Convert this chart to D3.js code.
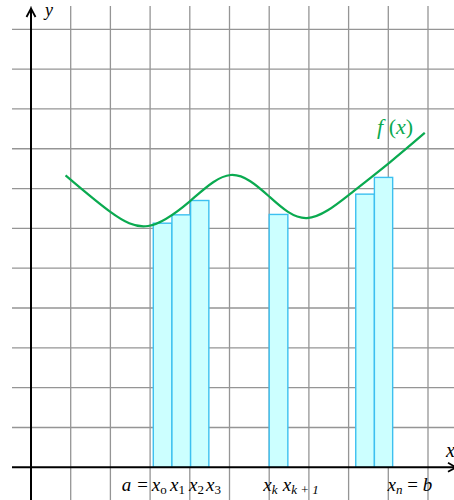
<!DOCTYPE html>
<html><head><meta charset="utf-8">
<script src="https://cdn.jsdelivr.net/npm/d3@7"></script>
<style>html,body{margin:0;padding:0;background:#fff;}svg{display:block;}</style>
</head><body>
<script>
// grid in units
const gridXs = [0,1,2,3,4,5,6,7,8,9,10];
const gridYs = [1,2,3,4,5,6,7,8,9,10,11];
// f(x) sample points (units)
const curveX = [0.87,1.99,2.95,4.0,5.03,6.0,6.95,8.03,9.04,9.92];
const curveY = [7.33,6.42,6.06,6.68,7.34,6.80,6.26,6.86,7.66,8.40];
// rectangles: left edge, width, height (units)
const barLeft = [3.08,3.55,4.02,6.0,8.18,8.65];
const barWidth = [0.47,0.47,0.46,0.47,0.47,0.46];
const barHeight = [6.13,6.34,6.70,6.35,6.86,7.28];
// bottom labels
const labelX = [2.285,3.04,3.50,3.98,4.41,5.85,6.34,8.98];
const labelMain = ["a = ","x","x","x","x","x","x","x"];
const labelSub = ["","o","1","2","3","k","k + 1","n"];
const labelSubItalic = [false,false,false,false,false,true,true,true];

const W=454,H=500;
const x = d3.scaleLinear().domain([0,11]).range([31,31+11*39.7]);
const y = d3.scaleLinear().domain([0,11]).range([467.3,467.3-11*39.82]);

const svg = d3.select("body").append("svg").attr("width",W).attr("height",H);
const serif = "'Liberation Serif','DejaVu Serif',serif";

// grid
svg.append("g").selectAll("line").data(gridYs).join("line")
  .attr("x1",12).attr("x2",W).attr("y1",d=>y(d)).attr("y2",d=>y(d))
  .attr("stroke","#959595").attr("stroke-width",1.3);
svg.append("g").selectAll("line").data(gridXs).join("line")
  .attr("x1",d=>x(d)).attr("x2",d=>x(d)).attr("y1",6).attr("y2",H)
  .attr("stroke","#959595").attr("stroke-width",1.3);

// bars
svg.append("g").selectAll("rect").data(barLeft).join("rect")
  .attr("x",(d)=>x(d))
  .attr("width",(d,i)=>x(d+barWidth[i])-x(d))
  .attr("y",(d,i)=>y(barHeight[i]))
  .attr("height",(d,i)=>y(0)-y(barHeight[i]))
  .attr("fill","#ccffff").attr("stroke","#3cc0f0").attr("stroke-width",1.4);

// curve
const pts = curveX.map((d,i)=>[d,curveY[i]]);
svg.append("path").attr("d",d3.line().x(d=>x(d[0])).y(d=>y(d[1])).curve(d3.curveNatural)(pts))
  .attr("fill","none").attr("stroke","#0aaa50").attr("stroke-width",2.2);

// axes
svg.append("line").attr("x1",12).attr("x2",455).attr("y1",y(0)).attr("y2",y(0))
  .attr("stroke","#000").attr("stroke-width",2);
svg.append("line").attr("x1",x(0)).attr("x2",x(0)).attr("y1",H).attr("y2",9)
  .attr("stroke","#000").attr("stroke-width",2);
// arrowheads
svg.append("path").attr("d",`M${x(0)-4.5},${17} L${x(0)},${8.5} L${x(0)+4.5},${17}`)
  .attr("fill","none").attr("stroke","#000").attr("stroke-width",1.8);
svg.append("path").attr("d",`M${448},${y(0)-4.5} L${456},${y(0)} L${448},${y(0)+4.5}`)
  .attr("fill","none").attr("stroke","#000").attr("stroke-width",1.8);

// axis labels
svg.append("text").attr("x",45).attr("y",16).attr("font-family",serif).attr("font-style","italic")
  .attr("font-size",18).text("y");
svg.append("text").attr("x",446).attr("y",457).attr("font-family",serif).attr("font-style","italic")
  .attr("font-size",20).text("x");

// f(x) label
const fl = svg.append("text").attr("x",377).attr("y",134).attr("font-family",serif)
  .attr("font-size",22).attr("fill","#0aaa50");
fl.append("tspan").attr("font-style","italic").text("f");
fl.append("tspan").text(" (");
fl.append("tspan").attr("font-style","italic").text("x");
fl.append("tspan").text(")");

// bottom labels
labelX.forEach((lx,i)=>{
  const t = svg.append("text").attr("x",x(lx)).attr("y",491).attr("font-family",serif)
    .attr("font-size",19).attr("fill","#000");
  t.append("tspan").attr("font-style","italic").text(labelMain[i]);
  if(labelSub[i]){
    t.append("tspan").attr("font-size",13).attr("dy",3)
      .attr("font-style",labelSubItalic[i]?"italic":"normal").text(labelSub[i]);
  }
  if(i===7){
    t.append("tspan").attr("dy",-3).text(" = ");
    t.append("tspan").attr("font-style","italic").text("b");
  }
});
</script>
</body></html>
